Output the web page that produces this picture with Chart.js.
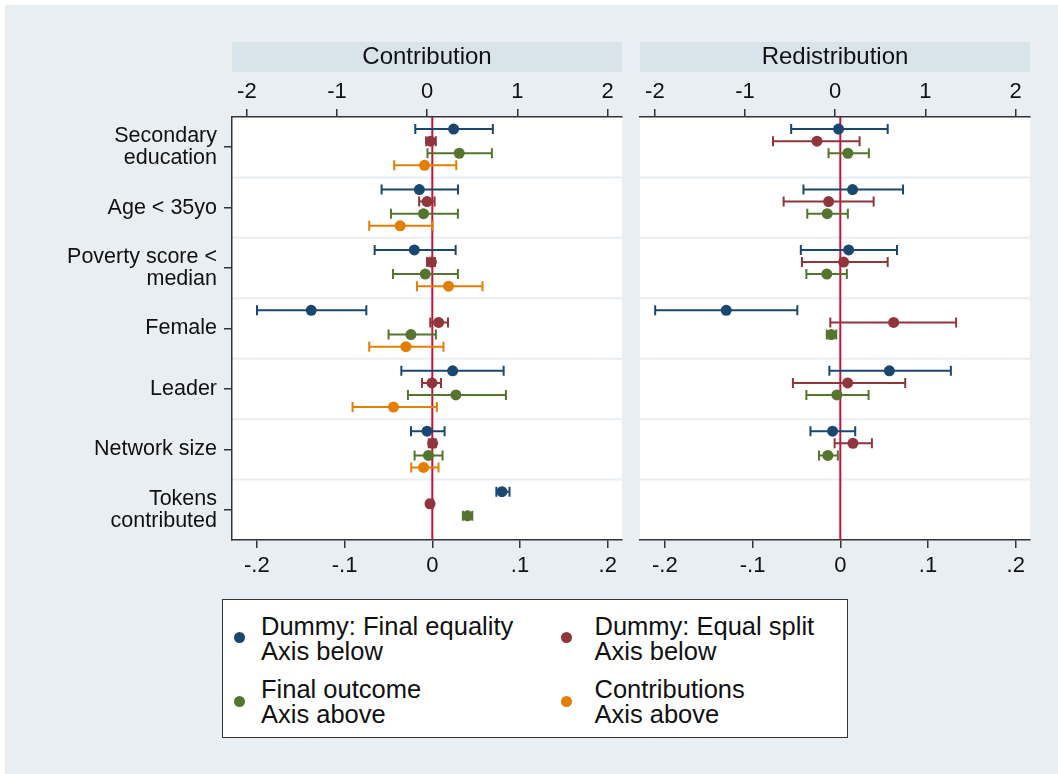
<!DOCTYPE html>
<html>
<head>
<meta charset="utf-8">
<script src="https://cdn.jsdelivr.net/npm/chart.js@4.4.1/dist/chart.umd.min.js"></script>
<style>
  html, body { margin: 0; padding: 0; background: #fff; width: 1058px; height: 774px; overflow: hidden;
    font-family: "Liberation Sans", Arial, sans-serif; }
  #bg { position: absolute; left: 5px; top: 5px; width: 1053px; height: 769px; background: #e8eef2; }
  canvas { position: absolute; top: 0; }
  #cA { left: 0; }
  #cB { left: 630px; }
  #legend { position: absolute; left: 222px; top: 599px; width: 624px; height: 137px;
    background: #fff; border: 1.5px solid #333; }
  .item { position: absolute; font-size: 25.5px; line-height: 25px; color: #111; white-space: nowrap; }
  .dot { position: absolute; width: 11px; height: 11px; border-radius: 50%; }
</style>
</head>
<body>
<div id="bg"></div>
<canvas id="cA" width="640" height="600"></canvas>
<canvas id="cB" width="420" height="600"></canvas>
<div id="legend"></div>
<script>
// Row labels (top to bottom)
const categories = ['Secondary\neducation', 'Age < 35yo', 'Poverty score <\nmedian', 'Female',
  'Leader', 'Network size', 'Tokens\ncontributed'];

const seriesNames = ['Dummy: Final equality', 'Dummy: Equal split', 'Final outcome', 'Contributions'];
const seriesNotes = ['Axis below', 'Axis below', 'Axis above', 'Axis above'];
const seriesColors = ['#1a476f', '#90353b', '#55752f', '#e37e00'];

// Axis ticks: "above" axis for outcome/contribution coefficients, "below" axis for the dummies
const topTicks = [-2, -1, 0, 1, 2];
const topTickLabels = ['-2', '-1', '0', '1', '2'];
const bottomTicks = [-0.2, -0.1, 0, 0.1, 0.2];
const bottomTickLabels = ['-.2', '-.1', '0', '.1', '.2'];

// Contribution panel: estimates and 95% CI bounds
const contribFinalEqEst = [0.0243, -0.0148, -0.0205, -0.138, 0.0232, -0.006, 0.0794];
const contribFinalEqLo  = [-0.0194, -0.0578, -0.0657, -0.1998, -0.0353, -0.0243, 0.073];
const contribFinalEqHi  = [0.069, 0.0293, 0.0266, -0.0752, 0.0813, 0.014, 0.088];

const contribEqSplitEst = [-0.002, -0.006, -0.001, 0.0072, -0.0004, 0.0004, -0.0026];
const contribEqSplitLo  = [-0.007, -0.015, -0.006, -0.0023, -0.0117, -0.004, -0.005];
const contribEqSplitHi  = [0.004, 0.0026, 0.003, 0.0179, 0.0099, 0.004, 0.0005];

const contribOutcomeEst = [0.355, -0.041, -0.022, -0.181, 0.318, 0.014, 0.447];
const contribOutcomeLo  = [0.003, -0.402, -0.38, -0.429, -0.214, -0.14, 0.395];
const contribOutcomeHi  = [0.717, 0.34, 0.34, 0.096, 0.873, 0.17, 0.50];

const contribContribEst = [-0.03, -0.30, 0.236, -0.236, -0.374, -0.041, null];
const contribContribLo  = [-0.366, -0.643, -0.114, -0.643, -0.828, -0.177, null];
const contribContribHi  = [0.322, 0.059, 0.613, 0.18, 0.107, 0.125, null];

// Redistribution panel
const redistFinalEqEst = [-0.002, 0.014, 0.0095, -0.130, 0.0559, -0.0088, null];
const redistFinalEqLo  = [-0.056, -0.042, -0.045, -0.211, -0.0125, -0.034, null];
const redistFinalEqHi  = [0.054, 0.0715, 0.0646, -0.049, 0.126, 0.017, null];

const redistEqSplitEst = [-0.0266, -0.0133, 0.0038, 0.0608, 0.0084, 0.0144, null];
const redistEqSplitLo  = [-0.0767, -0.0646, -0.0437, -0.0114, -0.054, -0.0065, null];
const redistEqSplitHi  = [0.022, 0.038, 0.054, 0.132, 0.074, 0.036, null];

const redistOutcomeEst = [0.14, -0.089, -0.093, -0.044, 0.018, -0.082, null];
const redistOutcomeLo  = [-0.074, -0.31, -0.32, -0.093, -0.32, -0.18, null];
const redistOutcomeHi  = [0.373, 0.14, 0.129, 0.011, 0.37, 0.029, null];

Chart.defaults.font.family = '"Liberation Sans", Arial, sans-serif';
Chart.defaults.color = '#111';

const BG = '#e8eef2';
const STRIP = '#d8e3ea';
const AXIS = '#333';

// Vertical offset of each series inside its row
const rowOffsets = [-0.3, -0.1, 0.1, 0.3];

function makeDataset(idx, axisId, est, lo, hi) {
  const pts = [];
  est.forEach((v, j) => {
    if (v === null) return;
    pts.push({ x: v, y: j + 1 + rowOffsets[idx], lo: lo[j], hi: hi[j] });
  });
  return {
    label: seriesNames[idx],
    data: pts,
    xAxisID: axisId,
    yAxisID: 'y',
    backgroundColor: seriesColors[idx],
    borderColor: seriesColors[idx],
    pointRadius: 5.5,
    pointBorderWidth: 0,
    pointHoverRadius: 5.5
  };
}

const panelDecor = {
  id: 'panelDecor',
  beforeDraw(chart) {
    const { ctx, chartArea: a } = chart;
    ctx.save();
    ctx.fillStyle = STRIP;
    ctx.fillRect(a.left, 42, a.right - a.left, 30);
    ctx.fillStyle = '#fff';
    ctx.fillRect(a.left, a.top, a.right - a.left, a.bottom - a.top);
    const ys = chart.scales.y;
    ctx.strokeStyle = BG;
    ctx.lineWidth = 2;
    for (let k = 1; k < categories.length; k++) {
      const py = ys.getPixelForValue(k + 0.5);
      ctx.beginPath(); ctx.moveTo(a.left, py); ctx.lineTo(a.right, py); ctx.stroke();
    }
    ctx.restore();
  },
  beforeDatasetsDraw(chart) {
    const { ctx, chartArea: a } = chart;
    ctx.save();
    // reference line at zero of the lower axis
    const zx = chart.scales.xb.getPixelForValue(0);
    ctx.strokeStyle = '#c8103a';
    ctx.lineWidth = 2;
    ctx.beginPath(); ctx.moveTo(zx, a.top); ctx.lineTo(zx, a.bottom); ctx.stroke();
    // confidence interval whiskers with caps
    chart.data.datasets.forEach((ds, i) => {
      const meta = chart.getDatasetMeta(i);
      const sc = chart.scales[ds.xAxisID];
      ctx.strokeStyle = ds.borderColor;
      ctx.lineWidth = 2;
      ds.data.forEach((p, j) => {
        const el = meta.data[j];
        if (!el) return;
        const py = el.y;
        const x1 = sc.getPixelForValue(p.lo);
        const x2 = sc.getPixelForValue(p.hi);
        ctx.beginPath();
        ctx.moveTo(x1, py); ctx.lineTo(x2, py);
        ctx.moveTo(x1, py - 5); ctx.lineTo(x1, py + 5);
        ctx.moveTo(x2, py - 5); ctx.lineTo(x2, py + 5);
        ctx.stroke();
      });
    });
    ctx.restore();
  }
};

function xAxis(position, ticks, labels, min, max, pad) {
  return {
    type: 'linear',
    position,
    min, max,
    afterBuildTicks: s => { s.ticks = ticks.map(v => ({ value: v })); },
    afterFit: s => { s.height = 45; },
    ticks: {
      callback: (v, i) => labels[i],
      font: { size: 22, lineHeight: 1 },
      color: '#111',
      padding: pad,
      maxRotation: 0,
      autoSkip: false
    },
    grid: { drawOnChartArea: false, drawTicks: true, tickLength: 8, color: AXIS, lineWidth: 1.5 },
    border: { display: true, color: AXIS, width: 1.5 }
  };
}

function buildPanel(canvasId, title, datasets, showY, padding) {
  const yScale = {
    type: 'linear',
    position: 'left',
    reverse: true,
    min: 0.5,
    max: 7.5,
    display: showY,
    afterBuildTicks: s => { s.ticks = categories.map((c, i) => ({ value: i + 1 })); },
    ticks: {
      callback: (v, i) => categories[i].split('\n'),
      font: { size: 21.5, lineHeight: 1.03 },
      color: '#111',
      padding: 7,
      autoSkip: false
    },
    grid: { drawOnChartArea: false, drawTicks: true, tickLength: 8, color: AXIS, lineWidth: 1.5 },
    border: { display: true, color: AXIS, width: 1.5 }
  };
  if (showY) yScale.afterFit = s => { s.width = 232; };

  return new Chart(document.getElementById(canvasId), {
    type: 'scatter',
    data: { datasets },
    options: {
      responsive: false,
      maintainAspectRatio: false,
      animation: false,
      events: [],
      layout: { padding },
      plugins: {
        legend: { display: false },
        tooltip: { enabled: false },
        title: {
          display: true,
          text: title,
          fullSize: false,
          color: '#111',
          font: { size: 24, weight: 'normal', lineHeight: 1.2 },
          padding: { top: 0.6, bottom: 0.6 }
        }
      },
      scales: {
        xt: xAxis('top', topTicks, topTickLabels, -2.165, 2.16, 6),
        xb: xAxis('bottom', bottomTicks, bottomTickLabels, -0.2283, 0.2162, 7),
        y: yScale
      }
    },
    plugins: [panelDecor]
  });
}

buildPanel('cA', 'Contribution', [
  makeDataset(0, 'xb', contribFinalEqEst, contribFinalEqLo, contribFinalEqHi),
  makeDataset(1, 'xb', contribEqSplitEst, contribEqSplitLo, contribEqSplitHi),
  makeDataset(2, 'xt', contribOutcomeEst, contribOutcomeLo, contribOutcomeHi),
  makeDataset(3, 'xt', contribContribEst, contribContribLo, contribContribHi)
], true, { top: 42, left: 0, right: 18, bottom: 15 });

buildPanel('cB', 'Redistribution', [
  makeDataset(0, 'xb', redistFinalEqEst, redistFinalEqLo, redistFinalEqHi),
  makeDataset(1, 'xb', redistEqSplitEst, redistEqSplitLo, redistEqSplitHi),
  makeDataset(2, 'xt', redistOutcomeEst, redistOutcomeLo, redistOutcomeHi)
], false, { top: 42, left: 10, right: 20, bottom: 15 });

// Legend: two columns, two rows, each key with a two-line label
const legendEl = document.getElementById('legend');
const legendPos = [
  { dx: 11, dy: 32, tx: 38, ty: 14 },
  { dx: 337.5, dy: 32, tx: 371.5, ty: 14 },
  { dx: 11, dy: 95.5, tx: 38, ty: 77 },
  { dx: 337.5, dy: 95.5, tx: 371.5, ty: 77 }
];
seriesNames.forEach((name, i) => {
  const p = legendPos[i];
  const dot = document.createElement('div');
  dot.className = 'dot';
  dot.style.left = p.dx + 'px';
  dot.style.top = p.dy + 'px';
  dot.style.background = seriesColors[i];
  legendEl.appendChild(dot);
  const txt = document.createElement('div');
  txt.className = 'item';
  txt.style.left = p.tx + 'px';
  txt.style.top = p.ty + 'px';
  txt.innerHTML = name + '<br>' + seriesNotes[i];
  legendEl.appendChild(txt);
});
</script>
</body>
</html>
